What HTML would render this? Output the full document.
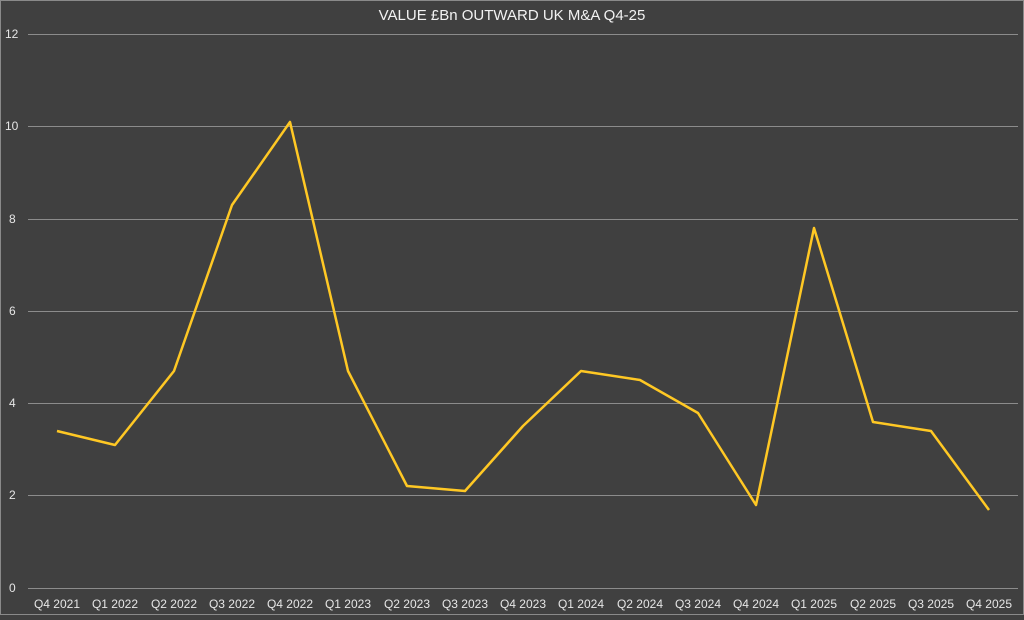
<!DOCTYPE html>
<html><head><style>
html,body{margin:0;padding:0;background:#404040;}
</style></head><body>
<svg width="1024" height="615" xmlns="http://www.w3.org/2000/svg" font-family="Liberation Sans, sans-serif">
<rect x="0.5" y="0.5" width="1023" height="614" fill="#404040" stroke="#8a8a8a"/>
<text x="512" y="20" text-anchor="middle" fill="#f2f2f2" font-size="15">VALUE £Bn OUTWARD UK M&amp;A Q4-25</text>
<g stroke="#8c8c8c" stroke-width="1">
<line x1="28" y1="34.5" x2="1018" y2="34.5"/>
<line x1="28" y1="126.5" x2="1018" y2="126.5"/>
<line x1="28" y1="219.5" x2="1018" y2="219.5"/>
<line x1="28" y1="311.5" x2="1018" y2="311.5"/>
<line x1="28" y1="403.5" x2="1018" y2="403.5"/>
<line x1="28" y1="495.5" x2="1018" y2="495.5"/>
<line x1="28" y1="588.5" x2="1018" y2="588.5"/>
</g>
<g fill="#e6e6e6" font-size="12" text-anchor="start">
<text x="5" y="38">12</text><text x="5" y="130">10</text><text x="9" y="223">8</text><text x="9" y="315">6</text><text x="9" y="407">4</text><text x="9" y="499">2</text><text x="9" y="592">0</text>
</g>
<g fill="#e6e6e6" font-size="12" text-anchor="middle">
<text x="57" y="608">Q4 2021</text><text x="115" y="608">Q1 2022</text><text x="174" y="608">Q2 2022</text><text x="232" y="608">Q3 2022</text><text x="290" y="608">Q4 2022</text><text x="348" y="608">Q1 2023</text><text x="407" y="608">Q2 2023</text><text x="465" y="608">Q3 2023</text><text x="523" y="608">Q4 2023</text><text x="581" y="608">Q1 2024</text><text x="640" y="608">Q2 2024</text><text x="698" y="608">Q3 2024</text><text x="756" y="608">Q4 2024</text><text x="814" y="608">Q1 2025</text><text x="873" y="608">Q2 2025</text><text x="931" y="608">Q3 2025</text><text x="989" y="608">Q4 2025</text>
</g>
<polyline fill="none" stroke="#ffc824" stroke-width="2.5" stroke-linejoin="round" points="57,431 115,445 174,371 232,205 290,122 348,371 407,486 465,491 523,426 581,371 640,380 698,413 756,505 814,228 873,422 931,431 989,510"/>
</svg>
</body></html>
